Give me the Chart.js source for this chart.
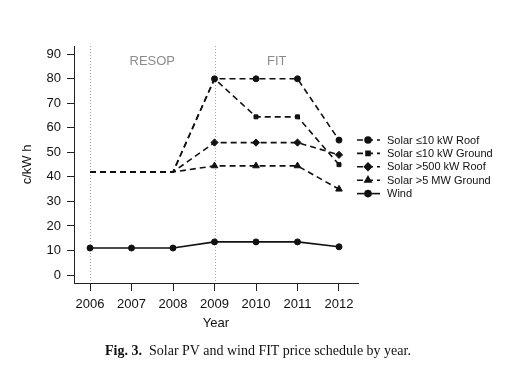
<!DOCTYPE html>
<html lang="en">
<head>
<meta charset="UTF-8">
<title>Solar PV and wind FIT price schedule by year</title>
<script src="https://cdn.jsdelivr.net/npm/chart.js"></script>
<style>
    body {
        margin: 0;
        background: #fff;
    }
    .wrap {
        position: relative;
        width: 506px;
        height: 376px;
    }
    #chart {
        position: absolute;
        left: 0;
        top: 0;
    }
    .caption {
        position: absolute;
        left: 5px;
        top: 343px;
        width: 506px;
        text-align: center;
        font-family: 'Liberation Serif', 'DejaVu Serif', serif;
        font-size: 14px;
        line-height: 16px;
        color: #111;
        white-space: nowrap;
    }
</style>
</head>
<body>
<div class="wrap">
    <canvas id="chart" width="506" height="376"></canvas>
    <div class="caption"><b>Fig. 3.</b>&nbsp; Solar PV and wind FIT price schedule by year.</div>
</div>
<script>
// values (c/kW h)
const years = [2006, 2007, 2008, 2009, 2010, 2011, 2012];
const roofSmall = [42, 42, 42, 80, 80, 80, 55];
const groundSmall = [42, 42, 42, 80, 64.5, 64.5, 45];
const roofLarge = [42, 42, 42, 54, 54, 54, 49];
const groundLarge = [42, 42, 42, 44.5, 44.5, 44.5, 35];
const wind = [11, 11, 11, 13.5, 13.5, 13.5, 11.5];

const seriesLabels = ['Solar \u226410 kW Roof', 'Solar \u226410 kW Ground', 'Solar >500 kW Roof', 'Solar >5 MW Ground', 'Wind'];
const periodStarts = [2006, 2009];
const periodLabels = ['RESOP', 'FIT'];
const periodMids = [2007.5, 2010.5];
const yTicks = [0, 10, 20, 30, 40, 50, 60, 70, 80, 90];

const ink = '#111';
const dashed = [6, 4];
// solar markers only from 2009 on
const solarRadius = [0, 0, 0, 3, 3, 3, 3];

const toPoints = vals => years.map((yr, i) => ({x: yr, y: vals[i]}));

function lineSet(label, vals, style, dash, radius) {
    return {
        label: label,
        data: toPoints(vals),
        borderColor: ink,
        backgroundColor: ink,
        borderWidth: 1.6,
        borderDash: dash,
        pointStyle: style,
        pointRadius: radius,
        pointBackgroundColor: ink,
        pointBorderColor: ink,
        pointBorderWidth: 1,
        tension: 0
    };
}

const datasets = [
    lineSet(seriesLabels[0], roofSmall, 'circle', dashed, solarRadius),
    lineSet(seriesLabels[1], groundSmall, 'rect', dashed, solarRadius.map(r => r ? 2.8 : 0)),
    lineSet(seriesLabels[2], roofLarge, 'rectRot', dashed, solarRadius.map(r => r ? 3.6 : 0)),
    lineSet(seriesLabels[3], groundLarge, 'triangle', dashed, solarRadius.map(r => r ? 3.8 : 0)),
    lineSet(seriesLabels[4], wind, 'circle', [], 3)
];

function drawMarker(ctx, style, r, cx, cy) {
    if (Chart.helpers && Chart.helpers.drawPoint) {
        Chart.helpers.drawPoint(ctx, {pointStyle: style, radius: r, rotation: 0, borderWidth: 1}, cx, cy);
        return;
    }
    ctx.beginPath();
    ctx.arc(cx, cy, r, 0, Math.PI * 2);
    ctx.fill();
}

const decor = {
    id: 'decor',
    beforeDatasetsDraw(chart) {
        const {ctx, chartArea, scales: {x, y}} = chart;
        ctx.save();
        // period separators
        ctx.strokeStyle = '#a8a8a8';
        ctx.lineWidth = 1;
        ctx.setLineDash([1, 2]);
        periodStarts.forEach(v => {
            const px = Math.round(x.getPixelForValue(v)) + 0.5;
            ctx.beginPath();
            ctx.moveTo(px, chartArea.top);
            ctx.lineTo(px, chartArea.bottom);
            ctx.stroke();
        });
        ctx.setLineDash([]);
        ctx.fillStyle = '#8c8c8c';
        ctx.font = '13px "Liberation Sans", Arial, sans-serif';
        ctx.textAlign = 'center';
        ctx.textBaseline = 'middle';
        periodLabels.forEach((t, i) => {
            ctx.fillText(t, x.getPixelForValue(periodMids[i]), y.getPixelForValue(87.2));
        });
        ctx.restore();
    },
    afterDraw(chart) {
        // legend to the right of the plot
        const ctx = chart.ctx;
        ctx.save();
        ctx.font = '11px "Liberation Sans", Arial, sans-serif';
        ctx.textAlign = 'left';
        ctx.textBaseline = 'middle';
        chart.data.datasets.forEach((ds, i) => {
            const rowY = 140 + i * 13.4;
            ctx.strokeStyle = ink;
            ctx.fillStyle = ink;
            ctx.lineWidth = 1.6;
            ctx.setLineDash(ds.borderDash);
            ctx.beginPath();
            ctx.moveTo(357, rowY);
            ctx.lineTo(380, rowY);
            ctx.stroke();
            ctx.setLineDash([]);
            const r = ds.pointStyle === 'rect' ? 2.8 : ds.pointStyle === 'circle' ? 3 : 3.6;
            drawMarker(ctx, ds.pointStyle, r, 368, rowY);
            ctx.fillStyle = ink;
            ctx.fillText(ds.label, 387, rowY + 0.5);
        });
        ctx.restore();
    }
};

Chart.defaults.font.family = '"Liberation Sans", Arial, sans-serif';
Chart.defaults.color = ink;

new Chart(document.getElementById('chart'), {
    type: 'line',
    data: {datasets: datasets},
    options: {
        responsive: false,
        animation: false,
        layout: {padding: {left: 16, top: 46, right: 148, bottom: 41}},
        plugins: {
            legend: {display: false},
            tooltip: {enabled: false}
        },
        scales: {
            x: {
                type: 'linear',
                min: 2005.614,
                max: 2012.458,
                afterFit: s => { s.height = 52; },
                border: {display: true, color: '#222', width: 1},
                grid: {display: true, drawOnChartArea: false, drawTicks: true, tickLength: 8, color: '#222'},
                ticks: {
                    stepSize: 1,
                    includeBounds: false,
                    padding: 6,
                    autoSkip: false,
                    maxRotation: 0,
                    font: {size: 13},
                    color: ink,
                    callback: v => String(v)
                },
                title: {display: true, text: 'Year', font: {size: 13}, color: ink, padding: {top: 0, bottom: 4}}
            },
            y: {
                min: -3.26,
                max: 93.38,
                afterFit: s => { s.width = 58; },
                afterBuildTicks: s => { s.ticks = yTicks.map(v => ({value: v})); },
                border: {display: true, color: '#222', width: 1},
                grid: {display: true, drawOnChartArea: false, drawTicks: true, tickLength: 7, color: '#222'},
                ticks: {padding: 6, font: {size: 13}, color: ink},
                title: {display: true, text: 'c/kW h', font: {size: 13}, color: ink, padding: {top: 4, bottom: 0}}
            }
        }
    },
    plugins: [decor]
});
</script>
</body>
</html>
